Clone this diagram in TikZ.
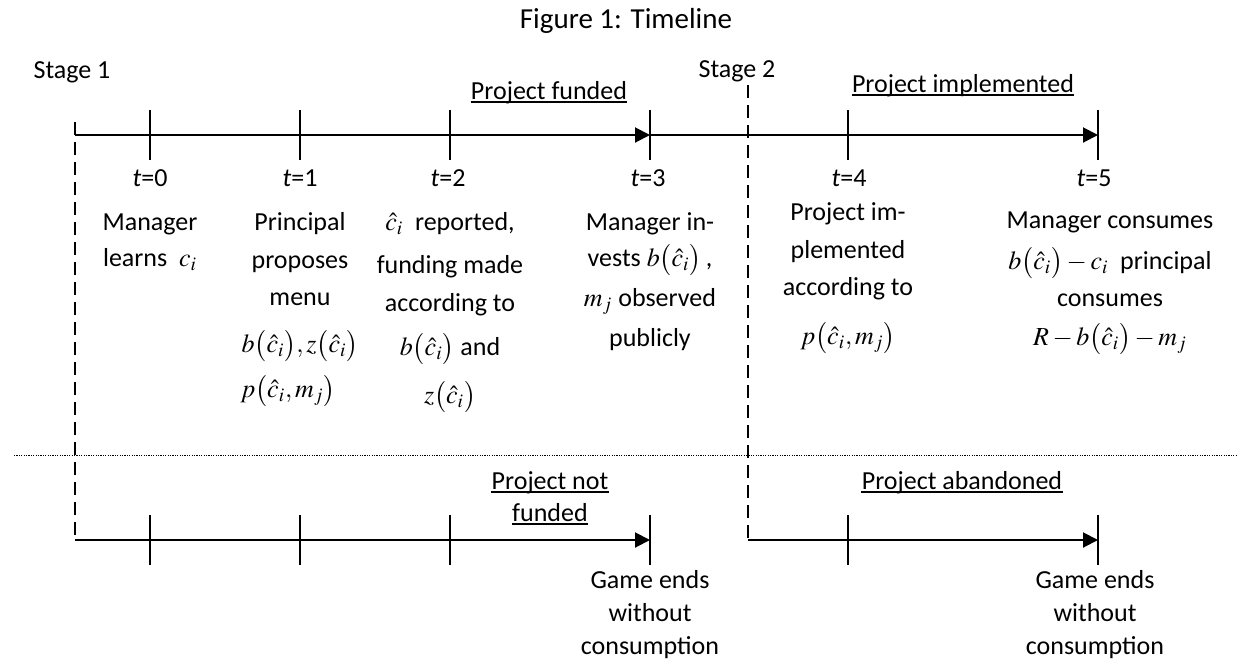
\documentclass[tikz,border=0pt]{standalone}
\usepackage{mathptmx}
\usepackage[no-math]{fontspec}
\setmainfont{Carlito}
\usetikzlibrary{arrows.meta}
\newcommand\bodyfnt{\fontsize{13}{18.75}\selectfont}
\newcommand\gamefnt{\fontsize{13}{16.5}\selectfont}
\newcommand\ch{\bigl(\hat c_i\bigr)}
\begin{document}
\begin{tikzpicture}[x=0.5pt,y=-0.5pt,
  axis/.style={line width=1pt},
  arr/.style={axis,-{Triangle[length=7.5pt,width=7.5pt]}},
  tickmark/.style={line width=1pt},
  stageline/.style={line width=1.4pt,dash pattern=on 6.5pt off 3.5pt},
  sepline/.style={line width=0.5pt,dash pattern=on 0.6pt off 0.6pt},
  ul/.style={line width=0.75pt},
  lbl/.style={inner sep=0pt,font=\bodyfnt,anchor=base},
  blk/.style={inner sep=0pt,font=\bodyfnt,align=center,anchor=north},
  endblk/.style={inner sep=0pt,font=\gamefnt,align=center,anchor=north}]
\useasboundingbox (0,0) rectangle (1238,660);

% titles
\node[lbl,font=\fontsize{14.5}{17}\selectfont] (title) at (626,28) {Figure 1: Timeline};
\node[lbl] (st1) at (72,78) {Stage 1};
\node[lbl] (st2) at (737,77) {Stage 2};
\node[lbl] (pf) at (549,99) {Project funded};
\node[lbl] (pi) at (963,92) {Project implemented};
\node[lbl] (pnf1) at (550,489) {Project not};
\node[lbl] (pnf2) at (550,521) {funded};
\node[lbl] (pa) at (962,489) {Project abandoned};
\foreach \n in {pf,pi,pnf1,pnf2,pa}
  \draw[ul] ([yshift=-1.6pt]\n.base west) -- ([yshift=-1.6pt]\n.base east);

% coordinates
\coordinate (s1a) at (75,122);
\coordinate (s1b) at (75,540);
\coordinate (s2a) at (748,85);
\coordinate (s2b) at (748,540);
\coordinate (top0) at (75,135);
\coordinate (t3) at (650,135);
\coordinate (t5) at (1098,135);
\coordinate (b3) at (650,540);
\coordinate (b5) at (1098,540);
\coordinate (sepL) at (14,455);
\coordinate (sepR) at (1238,455);

% stage lines
\draw[stageline] (s1a) -- (s1b);
\draw[stageline] (s2a) -- (s2b);
\draw[sepline] (sepL) -- (sepR);

% top timeline
\draw[arr] (top0) -- (t3);
\draw[arr] (t3) -- (t5);
\foreach \x in {150,300,450,650,848,1098}
  \draw[tickmark] (\x,110) -- (\x,160);

% bottom timelines
\draw[arr] (s1b) -- (b3);
\draw[arr] (s2b) -- (b5);
\foreach \x in {150,300,450,650,848,1098}
  \draw[tickmark] (\x,515) -- (\x,565);

% time labels
\node[lbl] (l0) at (150,186) {\textit{t}=0};
\node[lbl] (l1) at (300,186) {\textit{t}=1};
\node[lbl] (l2) at (448,186) {\textit{t}=2};
\node[lbl] (l3) at (648,186) {\textit{t}=3};
\node[lbl] (l4) at (849,186) {\textit{t}=4};
\node[lbl] (l5) at (1094,186) {\textit{t}=5};

% event blocks
\node[blk] (e0) at (150,204) {\rule{0pt}{13pt}Manager\\[-0.75pt]learns \ $c_i$};
\node[blk] (e1) at (300,204) {\rule{0pt}{13pt}Principal\\[0.25pt]proposes\\[-0.25pt]menu\\[4.75pt]$b\ch,z\ch$\\[3.75pt]\mbox{$p\bigl(\hat c_i,m_j\bigr)$\kern12pt}};
\node[blk] (e2) at (450,204) {\rule{0pt}{13pt}$\hat c_i$ \ reported,\\[2.75pt]funding made\\[0.25pt]according to\\[3.25pt]$b\ch$ and\\[5.25pt]$z\ch$};
\node[blk] (e3) at (650,204) {\rule{0pt}{13pt}Manager in-\\[-0.75pt]vests $b\ch$\,,\\[1.25pt]$m_j$ observed\\[1.25pt]publicly};
\node[blk] (e4) at (848,194) {\rule{0pt}{13pt}Project im-\\[0.25pt]plemented\\[-0.25pt]according to\\[5.75pt]$p\bigl(\hat c_i,m_j\bigr)$};
\node[blk] (e5) at (1110,202) {\rule{0pt}{13pt}Manager consumes\\[1.75pt]$b\ch-c_i$ \ principal\\[-0.25pt]consumes\\[0.75pt]$R-b\ch-m_j$};

% end blocks
\node[endblk] (g1) at (650,562) {\rule{0pt}{13pt}Game ends\\without\\consumption};
\node[endblk] (g2) at (1095,562) {\rule{0pt}{13pt}Game ends\\without\\consumption};
\end{tikzpicture}
\end{document}
